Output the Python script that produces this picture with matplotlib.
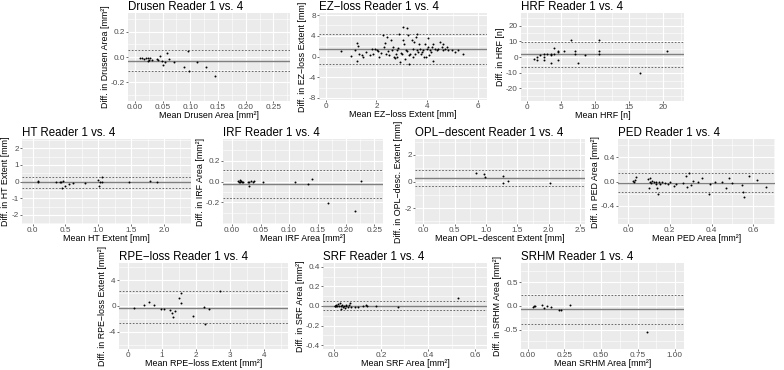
import matplotlib
matplotlib.use("Agg")
import matplotlib.pyplot as plt
from matplotlib.ticker import AutoMinorLocator, FixedLocator, FormatStrFormatter

plt.rcParams['font.family'] = ['Liberation Sans', 'DejaVu Sans']

# ---- data (mean of readers, difference, bias, limits of agreement) ----
drusen_mean = [0.0085, 0.0125, 0.016, 0.020, 0.023, 0.0255, 0.028, 0.024, 0.031, 0.040, 0.0425,
               0.045, 0.048, 0.051, 0.055, 0.058, 0.062, 0.071, 0.089, 0.096, 0.097, 0.112, 0.128, 0.145]
drusen_diff = [-0.005, -0.008, -0.013, -0.005, -0.005, -0.027, -0.011, -0.035, -0.021, -0.019, -0.027,
               0.011, -0.035, -0.064, -0.037, 0.035, -0.019, -0.043, -0.08, 0.046, -0.112, -0.043, -0.077, -0.155]
drusen_bias, drusen_loa = -0.029, [0.054, -0.112]

ez_mean = [0.60, 0.98, 1.15, 1.22, 1.26, 1.31, 1.42, 1.48, 1.59, 1.75, 1.81, 1.88, 1.94, 2.01, 2.07,
           2.11, 2.17, 2.24, 2.30, 2.34, 2.38, 2.43, 2.47, 2.51, 2.56, 2.60, 2.64, 2.69, 2.73, 2.77,
           2.80, 2.82, 2.86, 2.90, 2.93, 2.95, 2.99, 3.03, 3.06, 3.08, 3.12, 3.15, 3.19, 3.22, 3.25,
           3.29, 3.32, 3.39, 3.43, 3.45, 3.49, 3.52, 3.56, 3.58, 3.61, 3.65, 3.69, 3.71, 3.74, 3.78,
           3.85, 3.87, 3.91, 3.94, 3.98, 4.02, 4.04, 4.07, 4.11, 4.13, 4.17, 4.21, 4.24, 4.30, 4.37,
           4.44, 4.50, 4.57, 4.61, 4.63, 4.70, 4.76, 4.83, 4.96, 5.09, 5.22, 5.42, 1.22, 3.30]
ez_diff = [0.98, 0.07, 1.31, 2.61, 2.0, 0.52, 0.33, -0.13, 0.85, 0.2, 1.37, 0.52, 1.5, 1.18, 1.05,
           -0.13, 0.65, 4.12, 1.83, 2.61, 0.52, 3.79, 1.05, 0.2, 3.14, 1.18, 1.83, 0.0, -0.26, 0.52,
           1.18, 0.0, 1.7, 4.44, -1.11, 0.65, 0.39, 3.27, 5.62, 2.48, -0.46, 1.18, 5.49, 0.98, 4.12,
           0.33, 0.52, 3.14, -0.13, 1.5, 2.81, 0.52, 3.79, 1.18, 4.44, 0.85, 2.48, 1.5, 0.39, 0.85,
           1.18, -0.13, 2.48, 0.0, 1.5, 1.83, 3.66, 0.2, 1.18, 0.85, 1.83, -0.78, 2.48, 1.5, 1.18,
           1.5, 2.81, 1.83, 2.48, 1.18, 1.5, 1.83, 1.18, 1.18, 0.85, 1.18, 0.39, -0.9, -1.5]
ez_bias, ez_loa = 1.5, [4.25, -1.4]

hrf_mean = [1.0, 1.5, 1.5, 2.0, 2.5, 2.5, 2.5, 3.0, 3.5, 3.5, 3.5, 4.0, 4.0, 4.5, 4.5, 4.5,
            5.5, 6.5, 7.0, 7.0, 7.5, 8.5, 10.5, 10.5, 10.5, 16.5, 20.5]
hrf_diff = [-1, 0, -2, 1, 2, 0, -2, 2, 2, -4, 1, 6, 2, 4, 3, -2,
            4, 11, 4, 2, -4, 1, 11, 4, 2, -10, 4]
hrf_bias, hrf_loa = 1.7, [9.7, -6.3]

ht_mean = [0.08, 0.09, 0.36, 0.42, 0.44, 0.46, 0.45, 0.50, 0.55, 0.61, 0.80, 1.00, 1.01, 1.03,
           1.05, 1.05, 1.47, 1.79, 1.90]
ht_diff = [0.06, -0.04, -0.04, -0.04, 0.0, 0.04, -0.40, -0.26, -0.14, -0.10, -0.08, 0.10, -0.24,
           -0.05, 0.26, 0.0, 0.0, 0.06, 0.0]
ht_bias, ht_loa = -0.04, [0.26, -0.36]

irf_mean = [0.010, 0.012, 0.013, 0.014, 0.016, 0.018, 0.019, 0.028, 0.029, 0.030, 0.033, 0.036,
            0.039, 0.054, 0.110, 0.133, 0.140, 0.168, 0.216, 0.227]
irf_diff = [0.006, 0.0, 0.015, -0.006, 0.006, -0.006, 0.0, 0.0, -0.006, -0.046, 0.006, 0.0,
            0.006, 0.0, -0.006, -0.025, 0.028, -0.206, -0.277, 0.009]
irf_bias, irf_loa = -0.025, [0.114, -0.16]

opl_mean = [0.84, 0.97, 0.98, 1.28, 1.28, 1.36, 2.02]
opl_diff = [0.63, 0.55, 0.33, 0.43, -0.08, 0.05, -0.08]
opl_bias, opl_loa = 0.25, [0.88, -0.33]

ped_mean = [0.024, 0.029, 0.032, 0.037, 0.096, 0.101, 0.104, 0.107, 0.112, 0.117, 0.123, 0.133,
            0.136, 0.139, 0.144, 0.149, 0.155, 0.165, 0.176, 0.192, 0.203, 0.219, 0.232, 0.261,
            0.277, 0.283, 0.293, 0.304, 0.309, 0.336, 0.352, 0.386, 0.392, 0.416, 0.448, 0.469,
            0.485, 0.496, 0.544, 0.552, 0.555, 0.581, 0.616, 0.659]
ped_diff = [0.01, 0.0, 0.027, 0.07, 0.043, -0.107, -0.016, 0.053, -0.027, 0.016, -0.016, 0.0,
            -0.043, -0.107, -0.213, -0.016, -0.037, 0.0, -0.027, -0.037, -0.011, -0.069, -0.037, -0.027,
            0.091, -0.096, 0.133, -0.064, 0.011, -0.016, 0.053, -0.213, -0.043, -0.005, -0.016, -0.107,
            0.053, -0.027, -0.053, -0.176, -0.251, 0.096, 0.027, -0.096]
ped_bias, ped_loa = -0.027, [0.133, -0.176]

rpe_mean = [0.19, 0.47, 0.61, 0.76, 0.97, 1.07, 1.23, 1.29, 1.33, 1.39, 1.49, 1.55, 1.57, 1.91,
            2.23, 2.26, 2.38, 2.69]
rpe_diff = [-0.3, 0.1, 0.66, 0.2, -0.5, -0.46, -0.66, -1.1, -1.77, -0.81, 1.16, 2.03, 0.5, -1.52,
            -0.1, -2.78, -0.5, 2.28]
rpe_bias, rpe_loa = -0.25, [2.28, -2.68]

srf_mean = [0.004, 0.006, 0.009, 0.011, 0.016, 0.018, 0.021, 0.026, 0.030, 0.033, 0.037, 0.040,
            0.043, 0.047, 0.051, 0.054, 0.061, 0.065, 0.071, 0.075, 0.089, 0.104, 0.125, 0.136,
            0.142, 0.179, 0.271, 0.529]
srf_diff = [0.0, 0.0, 0.0, 0.013, 0.003, 0.02, 0.0, 0.03, -0.027, 0.0, 0.007, -0.01,
            0.0, -0.017, 0.0, 0.007, -0.01, 0.007, 0.03, -0.01, -0.01, -0.007, 0.0, 0.007,
            0.0, 0.0, -0.01, 0.084]
srf_bias, srf_loa = 0.003, [0.047, -0.04]

srhm_mean = [0.034, 0.045, 0.049, 0.100, 0.112, 0.130, 0.157, 0.213, 0.225, 0.290, 0.810]
srhm_diff = [-0.03, 0.0, 0.0, 0.014, -0.04, 0.007, -0.02, -0.077, -0.077, 0.028, -0.545]
srhm_bias, srhm_loa = -0.07, [0.24, -0.385]

# ---- layout: panel box in pixels (left, right, top, bottom), limits, ticks ----
panels = [
    ("Drusen", "Drusen Area [mm²]", "Drusen Area [mm²]", drusen_mean, drusen_diff, drusen_bias, drusen_loa,
     (128, 290, 13, 101), (-0.0125, 0.28), (-0.35, 0.35),
     [0, 0.05, 0.10, 0.15, 0.20, 0.25], [-0.2, 0, 0.2], "%.2f", "%.1f"),
    ("EZ−loss", "EZ−loss Extent [mm]", "EZ−loss Extent [mm]", ez_mean, ez_diff, ez_bias, ez_loa,
     (319, 487, 13, 100), (-0.26, 6.35), (-8.4, 8.4),
     [0, 2, 4, 6], [-8, -4, 0, 4, 8], "%d", "%d"),
    ("HRF", "HRF [n]", "HRF [n]", hrf_mean, hrf_diff, hrf_bias, hrf_loa,
     (521, 684, 13, 101), (-0.85, 23.0), (-28, 28),
     [0, 5, 10, 15, 20], [-20, -10, 0, 10, 20], "%d", "%d"),
    ("HT", "HT Extent [mm]", "HT Extent [mm]", ht_mean, ht_diff, ht_bias, ht_loa,
     (22, 191, 139, 224), (-0.16, 2.41), (-2.55, 2.55),
     [0, 0.5, 1.0, 1.5, 2.0], [-2, -1, 0, 1, 2], "%.1f", "%d"),
    ("IRF", "IRF Area [mm²]", "IRF Area [mm²]", irf_mean, irf_diff, irf_bias, irf_loa,
     (223, 383, 139, 224), (-0.016, 0.265), (-0.405, 0.405),
     [0, 0.05, 0.10, 0.15, 0.20, 0.25], [-0.2, 0, 0.2], "%.2f", "%.1f"),
    ("OPL−descent", "OPL−descent Extent [mm]", "OPL−desc. Extent [mm]", opl_mean, opl_diff, opl_bias, opl_loa,
     (415, 585, 139, 224), (-0.13, 2.58), (-3.2, 3.2),
     [0, 0.5, 1.0, 1.5, 2.0, 2.5], [-2, 0, 2], "%.1f", "%d"),
    ("PED", "PED Area [mm²]", "PED Area [mm²]", ped_mean, ped_diff, ped_bias, ped_loa,
     (618, 775, 139, 224), (-0.048, 0.704), (-0.7, 0.7),
     [0, 0.2, 0.4, 0.6], [-0.4, 0, 0.4], "%.1f", "%.1f"),
    ("RPE−loss", "RPE−loss Extent [mm²]", "RPE−loss Extent [mm²]", rpe_mean, rpe_diff, rpe_bias, rpe_loa,
     (119, 288, 263, 349), (-0.26, 4.7), (-6.65, 6.65),
     [0, 1, 2, 3, 4], [-4, 0, 4], "%d", "%d"),
    ("SRF", "SRF Area [mm²]", "SRF Area [mm²]", srf_mean, srf_diff, srf_bias, srf_loa,
     (323, 487, 263, 349), (-0.045, 0.65), (-0.44, 0.44),
     [0, 0.2, 0.4, 0.6], [-0.4, -0.2, 0, 0.2, 0.4], "%.1f", "%.1f"),
    ("SRHM", "SRHM Area [mm²]", "SRHM Area [mm²]", srhm_mean, srhm_diff, srhm_bias, srhm_loa,
     (521, 684, 263, 349), (-0.045, 1.063), (-0.91, 0.91),
     [0, 0.25, 0.5, 0.75, 1.0], [-0.5, 0, 0.5], "%.2f", "%.1f"),
]

W, H = 784, 370
fig = plt.figure(figsize=(W / 100, H / 100), dpi=100)

for (name, xname, yname, mean, diff, bias, loa, box, xlim, ylim, xt, yt, xfmt, yfmt) in panels:
    l, r, t, b = box
    ax = fig.add_axes([l / W, 1 - b / H, (r - l) / W, (b - t) / H])
    ax.set_facecolor('#EBEBEB')
    for s in ax.spines.values():
        s.set_visible(False)
    ax.set_xlim(*xlim)
    ax.set_ylim(*ylim)
    ax.xaxis.set_major_locator(FixedLocator(xt))
    ax.yaxis.set_major_locator(FixedLocator(yt))
    ax.xaxis.set_major_formatter(FormatStrFormatter(xfmt))
    ax.yaxis.set_major_formatter(FormatStrFormatter(yfmt))
    ax.xaxis.set_minor_locator(AutoMinorLocator(2))
    ax.yaxis.set_minor_locator(AutoMinorLocator(2))
    ax.grid(which='major', color='white', lw=0.8)
    ax.grid(which='minor', color='white', lw=0.4)
    ax.set_axisbelow(True)
    ax.tick_params(which='major', length=1.5, width=0.5, color='#333333',
                   labelsize=5.9, labelcolor='#4D4D4D', pad=0.8)
    ax.tick_params(which='minor', length=0)

    ax.axhline(bias, color='#7F7F7F', lw=1.0)
    for v in loa:
        ax.axhline(v, color='#555555', lw=0.6, linestyle=(0, (2, 2)))
    ax.scatter(mean, diff, s=2.0, color='black', linewidths=0, zorder=3)

    ax.set_title(name + " Reader 1 vs. 4", loc='left', fontsize=8.3, pad=2.5)
    ax.set_xlabel("Mean " + xname, fontsize=6.4, labelpad=0)
    ax.set_ylabel("Diff. in " + yname, fontsize=6.4, labelpad=0.8)

fig.savefig("out.png", dpi=100)
